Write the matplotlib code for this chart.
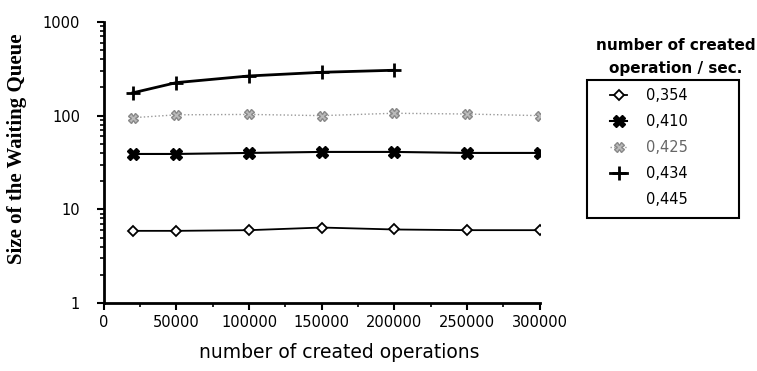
import matplotlib.pyplot as plt
from matplotlib.patches import Rectangle
from matplotlib.ticker import FixedLocator, LogLocator, NullFormatter
import numpy as np

plt.rcParams['font.family'] = ['DejaVu Sans']

ops = [20000, 50000, 100000, 150000, 200000, 250000, 300000]
q354 = [5.9, 5.9, 6.0, 6.4, 6.1, 6.0, 6.0]
q410 = [39, 39, 40, 41, 41, 40, 40]
q425 = [95, 102, 103, 100, 106, 104, 100]
ops434 = [20000, 50000, 100000, 150000, 200000]
q434 = [175, 225, 265, 290, 305]
rates = ['0,354', '0,410', '0,425', '0,434', '0,445']

W, H = 757, 371
fig = plt.figure(figsize=(W / 100, H / 100), dpi=100)
ax = fig.add_axes([0.137, 0.183, 0.576, 0.758])

ax.plot(ops, q354, color='black', lw=1.3, marker='D', ms=5, mfc='white', mec='black', mew=1.3, label=rates[0])
ax.plot(ops, q410, color='black', lw=1.5, marker='X', ms=8, mfc='black', mec='black', label=rates[1])
ax.plot(ops, q425, color='#999999', lw=1.0, ls=':', marker='X', ms=7, mfc='#bbbbbb', mec='#888888', label=rates[2])
ax.plot(ops434, q434, color='black', lw=2.0, marker='+', ms=10, mew=2, label=rates[3])
ax.plot([], [], ls='none', label=rates[4])

ax.set_yscale('log')
ax.set_ylim(1, 1000)
ax.set_xlim(0, 300000)
ax.set_xticks(np.arange(0, 300001, 50000))
ax.xaxis.set_minor_locator(FixedLocator(np.arange(25000, 300000, 50000)))
ax.yaxis.set_minor_locator(LogLocator(base=10, subs=np.arange(2, 10)))
ax.yaxis.set_minor_formatter(NullFormatter())
ax.set_yticks([1, 10, 100, 1000])
ax.set_yticklabels(['1', '10', '100', '1000'])
ax.tick_params(axis='both', which='major', direction='out', length=5, width=1.5, labelsize=10.5)
ax.tick_params(axis='y', which='major', pad=12)
ax.tick_params(axis='both', which='minor', direction='out', length=3, width=1.2)
for s in ['top', 'right']:
    ax.spines[s].set_visible(False)
for s in ['left', 'bottom']:
    ax.spines[s].set_linewidth(2)

ax.set_xlabel('number of created operations', fontsize=13.5, va='center')
ax.xaxis.set_label_coords(0.54, -0.175)
ax.set_ylabel('Size of the Waiting Queue', fontsize=15, fontweight='bold', va='center',
              family=['Liberation Serif'])
ax.yaxis.set_label_coords(-0.198, 0.55)

fig.text(676 / W, 1 - 57 / H, 'number of created\noperation / sec.', ha='center', va='center',
         fontsize=11, fontweight='bold', linespacing=1.6)
fig.patches.append(Rectangle((587 / W, 1 - 218 / H), 152 / W, 138 / H, transform=fig.transFigure,
                             fill=False, edgecolor='black', lw=1.5))
leg = ax.legend(loc='upper left', bbox_to_anchor=(604 / W, 1 - 82 / H), bbox_transform=fig.transFigure,
                fontsize=10.5, frameon=False, handlelength=1.2, borderpad=0.4,
                labelspacing=0.75, handletextpad=1.3, borderaxespad=0)
leg.texts[2].set_color('#666666')

fig.savefig('out.png', dpi=100)
